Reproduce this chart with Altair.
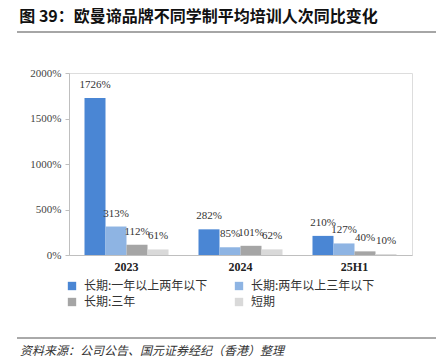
import altair as alt
import pandas as pd

categories = ["2023", "2024", "25H1"]
series = ["长期:一年以上两年以下", "长期:两年以上三年以下", "长期:三年", "短期"]
values = {
    "长期:一年以上两年以下": [1726, 282, 210],
    "长期:两年以上三年以下": [313, 85, 127],
    "长期:三年": [112, 101, 40],
    "短期": [61, 62, 10],
}
colors = ["#4A86D4", "#8EB4E3", "#A5A5A5", "#D9D9D9"]
y_ticks = [0, 500, 1000, 1500, 2000]

title_text = "图 39：欧曼谛品牌不同学制平均培训人次同比变化"
source_text = "资料来源：公司公告、国元证券经纪（香港）整理"

rows = []
for s in series:
    for c, v in zip(categories, values[s]):
        rows.append({"cat": c, "series": s, "value": v, "label": f"{v}%"})
df = pd.DataFrame(rows)

serif = "Liberation Serif"
cjk = "Noto Sans CJK SC"

x_enc = alt.X(
    "cat:N",
    sort=categories,
    scale=alt.Scale(paddingInner=0.263, paddingOuter=0.136),
    axis=alt.Axis(
        title=None, labelAngle=0, ticks=False, domainColor="#BFBFBF",
        labelFont=serif, labelFontSize=12, labelFontWeight="bold",
        labelColor="#222222", labelPadding=6,
    ),
)
xoff = alt.XOffset("series:N", sort=series, scale=alt.Scale(paddingInner=0, paddingOuter=0))

bars = alt.Chart(df).mark_bar().encode(
    x=x_enc,
    xOffset=xoff,
    y=alt.Y(
        "value:Q",
        scale=alt.Scale(domain=[0, 2000], nice=False),
        axis=alt.Axis(
            title=None, values=y_ticks, grid=False, domainColor="#BFBFBF",
            tickColor="#BFBFBF", tickSize=4, labelExpr="datum.value + '%'",
            labelFont=serif, labelFontSize=11, labelColor="#444444", labelPadding=4,
        ),
    ),
    color=alt.Color(
        "series:N",
        sort=series,
        scale=alt.Scale(domain=series, range=colors),
        legend=alt.Legend(
            title=None, orient="none", legendX=-3, legendY=207, columns=2,
            direction="horizontal",
            symbolType="square", symbolSize=70, symbolStrokeWidth=0,
            labelFont=cjk, labelFontSize=12, labelColor="#333333",
            columnPadding=25, rowPadding=4, labelOffset=6,
        ),
    ),
)

labels = alt.Chart(df).mark_text(
    dy=-8, font=serif, fontSize=11, color="#333333", baseline="bottom"
).encode(
    x=alt.X("cat:N", sort=categories),
    xOffset=xoff,
    y="value:Q",
    text="label:N",
)

top_line = alt.Chart(pd.DataFrame({"a": [0]})).mark_rule(color="#888888", strokeWidth=1.5).encode(
    x=alt.value(-52), x2=alt.value(367), y=alt.value(-41)
)
bottom_line = alt.Chart(pd.DataFrame({"a": [0]})).mark_rule(color="#555555", strokeWidth=1).encode(
    x=alt.value(-52), x2=alt.value(367), y=alt.value(265)
)
source = alt.Chart(pd.DataFrame({"t": [source_text]})).mark_text(
    align="left", baseline="middle", font=cjk, fontSize=12, fontStyle="italic", color="#333333"
).encode(x=alt.value(-49), y=alt.value(278), text="t:N")

chart = alt.layer(bars, labels, top_line, bottom_line, source).properties(
    width=343,
    height=182,
    title=alt.TitleParams(
        title_text, anchor="start", dx=3, offset=6, font=cjk, fontSize=16,
        fontWeight="bold", color="#111111",
    ),
    autosize=alt.AutoSizeParams(type="none"),
    padding={"left": 69, "top": 73, "right": 24, "bottom": 102},
).configure_view(stroke=None).configure(background="white")

chart.save("out.html", embed_options={"renderer": "svg", "actions": False})
